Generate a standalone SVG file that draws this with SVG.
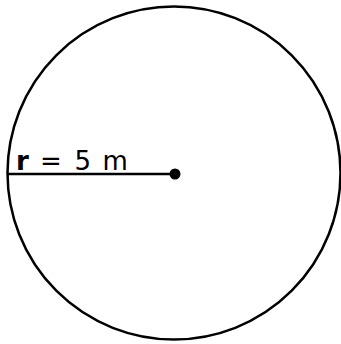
<svg xmlns="http://www.w3.org/2000/svg" width="341" height="344" viewBox="0 0 341 344">
<style>
.s{fill:none;stroke:#000;stroke-width:2.5}
.t{font-family:"DejaVu Sans",sans-serif;font-size:26px;fill:#000}
</style>
<rect width="341" height="344" fill="#fff"/>
<g id="circle"><circle class="s" cx="174" cy="173" r="166.5"/></g>
<g id="connectors"><line class="s" x1="8" y1="174" x2="175" y2="174"/></g>
<g id="center"><circle cx="175" cy="174" r="5.5" fill="#000"/></g>
<g id="label"><text class="t" y="170"><tspan x="16" font-weight="bold">r</tspan><tspan x="40">=</tspan><tspan x="74.5">5</tspan><tspan x="102.5">m</tspan></text></g>
</svg>
